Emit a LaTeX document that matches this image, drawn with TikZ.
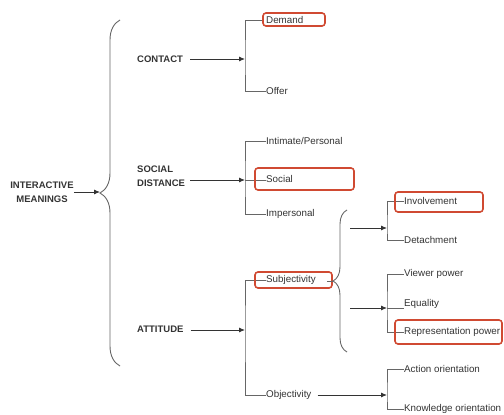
\documentclass[tikz,border=0pt]{standalone}
\usepackage{fontspec}
\setmainfont{Liberation Sans}
\usetikzlibrary{decorations.pathreplacing, arrows.meta}
\definecolor{txt}{HTML}{333333}
\definecolor{ln}{HTML}{666666}
\definecolor{hlred}{HTML}{D04A32}
\begin{document}
\begin{tikzpicture}[x=1pt, y=-1pt,
    head/.style={font=\bfseries\fontsize{9.5}{14.5}\selectfont, text=txt, inner sep=0pt, align=left},
    leaf/.style={font=\fontsize{9.8}{12}\selectfont, text=txt, inner sep=0pt, anchor=west},
    tree/.style={draw=ln, line width=0.9pt},
    arrow/.style={-{Latex[length=6pt, width=5pt]}, draw=txt, line width=0.9pt},
    brc/.style={draw=ln, line width=0.9pt, decorate},
    hl/.style={draw=hlred, line width=1.6pt, rounded corners=3pt}
]
    \useasboundingbox (0,0) rectangle (504,415);
    % 左侧总项
    \node[head, align=center] (im) at (42,192) {INTERACTIVE\\MEANINGS};
    \draw[brc, decoration={brace, amplitude=20pt}] (120,366) -- (120,20);
    \coordinate (bt) at (100,192);
    \draw[arrow] (im.east |- bt) -- (bt);
    % CONTACT
    \node[head, anchor=west] (ct) at (137,59) {CONTACT};
    \coordinate (cj) at (245,59);
    \draw[arrow, shorten <=7pt] (ct.east) -- (cj);
    \node[leaf] (dem) at (266,20) {Demand};
    \node[leaf] (off) at (266,91) {Offer};
    \draw[tree] ([xshift=-3pt]dem.west) -| (cj) |- (off.west);
    \draw[hl] (263,13) rectangle (325,26);
    % SOCIAL DISTANCE
    \node[head, anchor=west] (sd) at (137,176) {SOCIAL\\DISTANCE};
    \coordinate (sj) at (245,180);
    \draw[arrow, shorten <=5pt] (sd.east |- sj) -- (sj);
    \node[leaf] (ip) at (266,141) {Intimate/Personal};
    \node[leaf] (soc) at (266,179) {Social};
    \node[leaf] (imp) at (266,214) {Impersonal};
    \draw[tree] (ip.west) -| (sj) |- (imp.west);
    \draw[tree] (sj) -- (sj -| soc.west);
    \draw[hl] (255,168) rectangle (354,190);
    % ATTITUDE
    \node[head, anchor=west] (att) at (137,329) {ATTITUDE};
    \coordinate (aj) at (245,330);
    \draw[arrow, shorten <=7pt] (att.east |- aj) -- (aj);
    \node[leaf] (subj) at (266,280) {Subjectivity};
    \node[leaf] (obj) at (266,395) {Objectivity};
    \draw[tree] (subj.west) -| (aj) |- (obj.west);
    \draw[hl] (255,272) rectangle (332,288);
    % Subjectivity 的细分
    \coordinate (st) at (333,281);
    \draw[tree] ([xshift=11pt]subj.east |- st) -- (st);
    \draw[brc, decoration={brace, amplitude=14pt}] (347,352) -- (347,210);
    \coordinate (vj1) at (387,228);
    \coordinate (vj2) at (387,308);
    \draw[arrow] (350,228) -- (vj1);
    \draw[arrow] (350,308) -- (vj2);
    \node[leaf] (inv) at (404,201) {Involvement};
    \node[leaf] (det) at (404,240) {Detachment};
    \draw[tree] (inv.west) -| (vj1) |- (det.west);
    \draw[hl] (395,192) rectangle (483,212);
    \node[leaf] (vp) at (404,274) {Viewer power};
    \node[leaf] (eq) at (404,304) {Equality};
    \node[leaf] (rp) at (404,332) {Representation power};
    \draw[tree] (vp.west) -| (vj2) |- (rp.west);
    \draw[tree] (vj2) -- (vj2 -| eq.west);
    \draw[hl] (395,320) rectangle (502,344);
    % Objectivity 的细分
    \coordinate (vj3) at (387,395);
    \draw[arrow, shorten <=6pt] (obj.east) -- (vj3);
    \node[leaf] (ao) at (404,369) {Action orientation};
    \node[leaf] (ko) at (404,409) {Knowledge orientation};
    \draw[tree] (ao.west) -| (vj3) |- (ko.west);
\end{tikzpicture}
\end{document}
